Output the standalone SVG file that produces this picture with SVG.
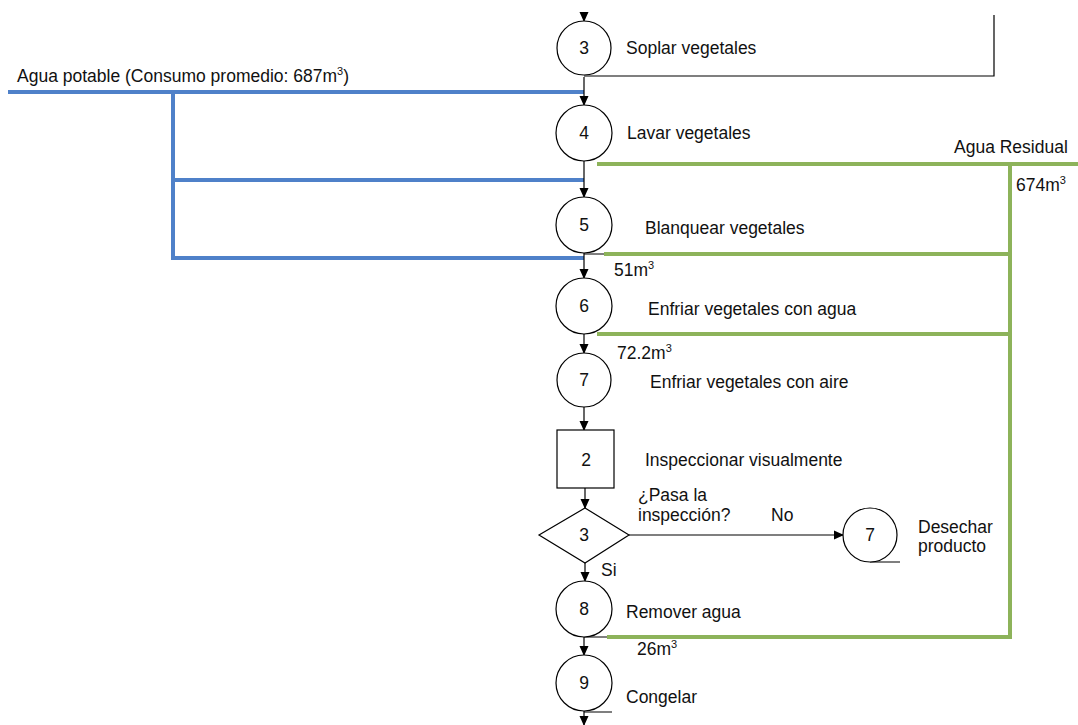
<svg xmlns="http://www.w3.org/2000/svg" width="1078" height="725" viewBox="0 0 1078 725">
<defs>
<marker id="ah" markerWidth="10" markerHeight="10" refX="9" refY="5" orient="auto" markerUnits="userSpaceOnUse">
<path d="M0,0.5 L10,5 L0,9.5 Z" fill="#000"/>
</marker>
<style>
text{font-family:"Liberation Sans",Arial,sans-serif;font-size:17.5px;fill:#111}
.n{font-size:17.5px;text-anchor:middle}
.sup{font-size:11px}
.sh{fill:#fff;stroke:#000;stroke-width:1.2}
.ln{fill:none;stroke:#000;stroke-width:1.2}
.ar{fill:none;stroke:#000;stroke-width:1.2;marker-end:url(#ah)}
.blue{fill:none;stroke:#4f81c9;stroke-width:4}
.green{fill:none;stroke:#8db35a;stroke-width:4}
</style>
</defs>
<rect width="1078" height="725" fill="#fff"/>
<g id="connectors">
<path class="blue" d="M8,92 H584 M173,92 V258 H584 M173,180 H584"/>
<path class="green" d="M597,164 H1078 M1010,164 V637 H607 M604,254 H1010 M597,334 H1010"/>
<path class="ln" d="M584,76 H994 V15"/>
<path class="ln" d="M584,254 H604 M584,637 H607 M584,712 H612 M870,562 H900"/>
<path class="ar" d="M584,12 V21"/>
<path class="ar" d="M584,77 V105"/>
<path class="ar" d="M584,161 V197"/>
<path class="ar" d="M584,253 V278"/>
<path class="ar" d="M584,334 V353"/>
<path class="ar" d="M584,407 V430"/>
<path class="ar" d="M585,488 V508"/>
<path class="ar" d="M585,563 V581"/>
<path class="ar" d="M584,637 V655"/>
<path class="ar" d="M584,711 V725"/>
<path class="ar" d="M629,535 H843"/>
</g>
<g id="n3"><circle class="sh" cx="584" cy="48" r="27"/><text class="n" x="584" y="54">3</text><text x="626" y="54">Soplar vegetales</text></g>
<g id="water-in"><text x="17" y="82">Agua potable (Consumo promedio: 687m<tspan class="sup" dy="-7">3</tspan><tspan dy="7">)</tspan></text></g>
<g id="n4"><circle class="sh" cx="584" cy="133" r="28"/><text class="n" x="584" y="139">4</text><text x="627" y="139">Lavar vegetales</text></g>
<g id="water-out"><text x="954" y="153">Agua Residual</text><text x="1016" y="191">674m<tspan class="sup" dy="-7">3</tspan></text></g>
<g id="n5"><circle class="sh" cx="584" cy="225" r="28"/><text class="n" x="584" y="231">5</text><text x="645" y="234">Blanquear vegetales</text><text x="614" y="276">51m<tspan class="sup" dy="-7">3</tspan></text></g>
<g id="n6"><circle class="sh" cx="584" cy="306" r="28"/><text class="n" x="584" y="312">6</text><text x="648" y="315">Enfriar vegetales con agua</text><text x="617" y="359">72.2m<tspan class="sup" dy="-7">3</tspan></text></g>
<g id="n7"><circle class="sh" cx="584" cy="380" r="27"/><text class="n" x="584" y="386">7</text><text x="650" y="388">Enfriar vegetales con aire</text></g>
<g id="i2"><rect class="sh" x="557" y="430" width="57" height="58"/><text class="n" x="586" y="466">2</text><text x="645" y="466">Inspeccionar visualmente</text></g>
<g id="d3"><path class="sh" d="M585,508 L629,535 L585,563 L539,535 Z"/><text class="n" x="584" y="541">3</text><text x="638" y="501">¿Pasa la</text><text x="638" y="521">inspección?</text><text x="771" y="521">No</text><text x="601" y="576">Si</text></g>
<g id="n7b"><circle class="sh" cx="870" cy="535" r="27"/><text class="n" x="870" y="541">7</text><text x="918" y="533">Desechar</text><text x="918" y="552">producto</text></g>
<g id="n8"><circle class="sh" cx="584" cy="609" r="28"/><text class="n" x="584" y="615">8</text><text x="626" y="618">Remover agua</text><text x="637" y="655">26m<tspan class="sup" dy="-7">3</tspan></text></g>
<g id="n9"><circle class="sh" cx="584" cy="683" r="28"/><text class="n" x="584" y="689">9</text><text x="626" y="703">Congelar</text></g>
</svg>
